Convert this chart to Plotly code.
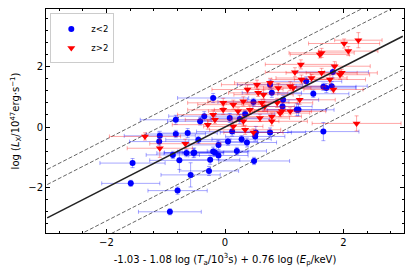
import plotly.graph_objects as go

# ---- data ----
blue_x = [-1.59, -0.93, -1.56, -0.80, -0.58, -0.88, -0.77, -0.65, -0.53, -1.10,
          -0.83, -0.63, -1.11, -0.45, -0.52, -0.20, -0.17, -0.11, 0.20, -0.25,
          0.49, -0.27, 0.12, 0.52, 0.76, 0.51, 0.28, 0.37, 0.05, -0.11,
          1.66, -0.83, -0.35, -0.42, -0.20, 0.48, 0.76, 0.98, 1.21, 0.08,
          0.34, 0.25, 0.97, 1.82, 1.37, 1.66, 1.71, 1.80, 1.49, 1.24, 0.79]
blue_y = [-1.86, -2.80, -1.19, -2.10, -1.58, -0.92, -1.10, -0.86, -0.86, -0.29,
          -0.23, -0.20, -0.48, -0.42, -0.84, -0.81, -0.84, -0.94, -0.79, -1.08,
          -1.12, -1.45, -0.15, -0.18, -0.18, -0.31, -0.40, -0.51, -0.48, -0.59,
          -0.15, 0.24, 0.36, 0.19, 0.96, 0.83, 1.40, 0.90, 0.57, 0.30,
          0.43, 0.27, 0.68, 1.82, 1.51, 1.33, 1.29, 1.35, 1.10, 0.57, 1.13]
blue_xerr = [0.49, 0.53, 0.55, 0.50, 0.50, 0.45, 0.50, 0.50, 0.50, 0.60,
             0.50, 0.50, 0.50, 0.55, 0.50, 0.60, 0.55, 0.50, 0.50, 0.50,
             0.60, 0.50, 0.60, 0.60, 0.60, 0.50, 0.50, 0.50, 0.50, 0.50,
             0.60, 0.60, 0.60, 0.55, 0.60, 0.60, 0.55, 0.60, 0.50, 0.50,
             0.50, 0.50, 0.50, 0.60, 0.60, 0.55, 0.50, 0.60, 0.60, 0.60, 0.50]
blue_yerr = [0.10, 0.10, 0.15, 0.12, 0.40, 0.12, 0.30, 0.12, 0.15, 0.15,
             0.12, 0.15, 0.12, 0.12, 0.15, 0.15, 0.12, 0.15, 0.12, 0.15,
             0.12, 0.15, 0.15, 0.20, 0.15, 0.15, 0.12, 0.15, 0.12, 0.15,
             0.30, 0.15, 0.15, 0.12, 0.15, 0.12, 0.15, 0.15, 0.20, 0.15,
             0.12, 0.15, 0.12, 0.20, 0.15, 0.12, 0.15, 0.15, 0.12, 0.20, 0.15]

red_x = [-1.35, -1.10, -0.67, -0.29, 2.25, 2.01, 2.08, 1.63, 1.60, 1.28,
         1.85, 1.97, 1.63, 1.18, 1.46, 1.77, 1.29, 1.83, 1.10, 2.22,
         1.26, 0.54, 0.76, 1.15, 0.38, 0.56, 0.65, 0.31, 0.62, 0.67,
         0.88, 0.93, 0.14, -0.03, 0.22, 0.42, 0.59, -0.20, -0.17, 0.31,
         0.14, 0.34, 0.48, 0.79, 1.10, 0.90, -0.03, 0.96, 0.79, 1.94]
red_y = [-0.31, -0.70, -0.55, 0.08, 2.87, 2.76, 2.51, 2.45, 2.40, 2.07,
         2.01, 1.79, 1.79, 1.81, 1.62, 1.57, 1.57, 1.24, 1.35, 0.12,
         0.90, 1.40, 1.46, 1.29, 1.24, 1.13, 1.07, 0.85, 0.80, 0.68,
         0.80, 0.46, 0.74, 0.57, 0.52, 0.57, 0.30, 0.41, 0.24, 0.19,
         0.02, -0.09, -0.18, 0.19, 0.52, 1.29, 0.80, 0.52, 0.35, 1.73]
red_xerr = [0.60, 0.55, 0.60, 0.60, 0.40, 0.60, 0.50, 0.55, 0.50, 0.60,
            0.60, 0.60, 0.60, 0.50, 0.60, 0.60, 0.50, 0.50, 0.60, 0.75,
            0.60, 0.60, 0.60, 0.50, 0.60, 0.50, 0.50, 0.60, 0.60, 0.50,
            0.60, 0.50, 0.60, 0.60, 0.50, 0.60, 0.50, 0.60, 0.50, 0.60,
            0.50, 0.60, 0.50, 0.60, 0.60, 0.55, 0.60, 0.50, 0.50, 0.50]
red_yerr = [0.12, 0.30, 0.15, 0.15, 0.25, 0.15, 0.15, 0.15, 0.12, 0.15,
            0.15, 0.12, 0.15, 0.15, 0.12, 0.15, 0.15, 0.12, 0.15, 0.25,
            0.15, 0.15, 0.15, 0.12, 0.15, 0.12, 0.15, 0.15, 0.12, 0.15,
            0.15, 0.12, 0.15, 0.15, 0.12, 0.15, 0.12, 0.15, 0.12, 0.15,
            0.12, 0.15, 0.12, 0.15, 0.12, 0.15, 0.15, 0.12, 0.12, 0.15]

line_x = [-3.0, 3.0]          # extent of the fitted relation
fit_slope = 1.0
fit_intercept = 0.0
dash_offsets = [1.1, 1.6, -1.1, -1.6]

x_ticks = [-2, 0, 2]
y_ticks = [-2, 0, 2]

# ---- figure ----
fig = go.Figure()

for off in dash_offsets:
    fig.add_trace(go.Scatter(
        x=line_x, y=[fit_slope * v + fit_intercept + off for v in line_x],
        mode="lines", line=dict(color="#666666", width=1, dash="4px,2px"),
        showlegend=False, hoverinfo="skip"))

fig.add_trace(go.Scatter(
    x=blue_x, y=blue_y, mode="markers", name="z<2",
    marker=dict(symbol="circle", color="blue", size=6),
    error_x=dict(type="data", array=blue_xerr, color="rgba(0,0,255,0.35)", thickness=1, width=2),
    error_y=dict(type="data", array=blue_yerr, color="rgba(0,0,255,0.35)", thickness=1, width=2)))

fig.add_trace(go.Scatter(
    x=red_x, y=red_y, mode="markers", name="z>2",
    marker=dict(symbol="triangle-down", color="red", size=7),
    error_x=dict(type="data", array=red_xerr, color="rgba(255,0,0,0.35)", thickness=1, width=2),
    error_y=dict(type="data", array=red_yerr, color="rgba(255,0,0,0.35)", thickness=1, width=2)))

fig.add_trace(go.Scatter(
    x=line_x, y=[fit_slope * v + fit_intercept for v in line_x],
    mode="lines", line=dict(color="#222222", width=1.5),
    showlegend=False, hoverinfo="skip"))

axis_common = dict(
    showgrid=False, zeroline=False, showline=True, linecolor="black", linewidth=1,
    mirror="allticks", ticks="inside", ticklen=4, tickwidth=1, tickcolor="black",
    minor=dict(ticks="inside", ticklen=2, tickwidth=0.8, tickcolor="black", dtick=0.4),
    tickfont=dict(family="DejaVu Sans", size=10, color="black"),
    automargin=False,
)

fig.update_xaxes(range=[-3.02, 3.02], tickvals=x_ticks, **axis_common,
                 title=dict(text="-1.03 - 1.08 log (<i>T</i><sub>a</sub>/10<sup>3</sup>s) + 0.76 log (<i>E</i><sub>p</sub>/keV)",
                            font=dict(family="DejaVu Sans", size=10, color="black"), standoff=8))
fig.update_yaxes(range=[-3.5, 3.9], tickvals=y_ticks, **axis_common,
                 title=dict(text="log (<i>L</i><sub>X</sub>/10<sup>47</sup>erg·s<sup>−1</sup>)",
                            font=dict(family="DejaVu Sans", size=10, color="black"), standoff=6))

fig.update_layout(
    width=415, height=277,
    margin=dict(l=46, r=11, t=9, b=44),
    paper_bgcolor="white", plot_bgcolor="white",
    font=dict(family="DejaVu Sans", color="black"),
    legend=dict(x=0.012, y=0.98, xanchor="left", yanchor="top",
                bgcolor="rgba(255,255,255,0.8)", bordercolor="#cccccc", borderwidth=1,
                font=dict(family="DejaVu Sans", size=8.5, color="black"),
                itemwidth=30, tracegroupgap=0),
)

fig.write_html("out.html", config={"displayModeBar": False},
               post_script="document.body.style.margin='0';document.body.style.padding='0';")
